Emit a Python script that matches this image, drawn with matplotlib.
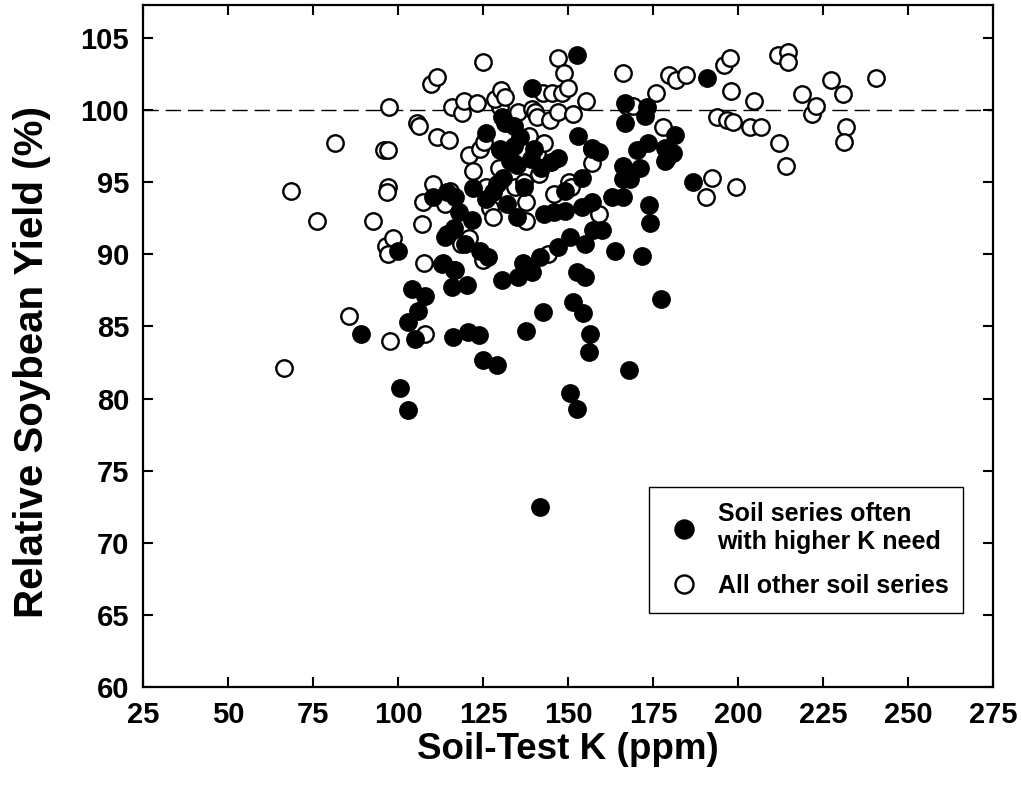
import matplotlib
matplotlib.use("Agg")
import matplotlib.pyplot as plt
from matplotlib.lines import Line2D

plt.rcParams['font.family'] = ['Liberation Sans', 'DejaVu Sans']
plt.rcParams['font.weight'] = 'bold'

# soil series often with higher K need (filled symbols)
high_k_x = [89.1, 100.0, 100.6, 102.9, 103.0, 104.1, 105.0, 105.9, 107.9, 110.3,
            112.9, 114.4, 114.4, 116.5, 115.9, 116.2, 116.8, 121.8, 116.5, 113.8,
            119.7, 124.1, 126.5, 113.2, 116.8, 120.3, 130.6, 135.3, 136.8, 139.4,
            141.8, 147.1, 150.6, 154.9, 157.4, 160.0, 163.8, 152.6, 155.0, 151.5,
            154.4, 142.6, 137.6, 156.5, 156.2, 120.6, 123.8, 125.0, 129.1, 168.0,
            150.6, 152.6, 141.8, 171.8, 177.4, 186.8, 173.8, 174.1, 190.9, 152.6,
            139.4, 130.6, 131.5, 166.8, 166.8, 173.2, 172.6, 181.5, 170.3, 173.5,
            178.5, 180.9, 178.5, 171.2, 166.2, 166.2, 168.2, 166.2, 179.1, 126.0,
            128.0, 129.0, 130.0, 131.0, 132.0, 132.0, 133.0, 134.0, 135.0, 135.0,
            136.0, 137.0, 139.0, 140.0, 142.0, 143.0, 145.0, 146.0, 147.0, 149.0,
            149.0, 153.0, 154.0, 154.0, 157.0, 157.0, 159.0, 163.0, 122.0, 126.0,
            118.0, 134.0]
high_k_y = [84.5, 90.2, 80.7, 79.2, 85.3, 87.6, 84.1, 86.1, 87.1, 94.0,
            89.3, 94.3, 91.4, 91.8, 87.7, 84.3, 94.0, 92.4, 88.9, 91.2,
            90.7, 90.2, 89.8, 89.4, 88.9, 87.9, 88.2, 88.4, 89.4, 88.8,
            89.8, 90.5, 91.2, 90.7, 91.7, 91.7, 90.2, 88.8, 88.4, 86.7,
            85.9, 86.0, 84.7, 84.5, 83.2, 84.6, 84.4, 82.7, 82.3, 82.0,
            80.4, 79.3, 72.5, 89.9, 86.9, 95.0, 93.4, 92.2, 102.2, 103.8,
            101.5, 99.5, 99.1, 100.5, 99.1, 100.2, 99.6, 98.3, 97.2, 97.7,
            97.4, 97.0, 96.5, 96.0, 96.1, 95.2, 95.2, 94.0, 96.7, 98.4,
            94.3, 94.9, 97.2, 95.3, 93.5, 97.0, 96.5, 97.5, 96.2, 92.6,
            98.1, 94.7, 96.6, 97.3, 96.0, 92.8, 96.4, 92.9, 96.7, 93.0,
            94.4, 98.2, 93.3, 95.3, 93.6, 97.3, 97.1, 94.0, 94.6, 93.8,
            92.9, 98.9]

# all other soil series (open symbols)
other_x = [66.5, 68.5, 76.2, 81.5, 85.5, 92.8, 95.8, 97.2, 97.0, 96.8,
           97.4, 96.5, 97.2, 98.5, 97.6, 105.5, 106.3, 107.2, 107.8, 108.0,
           107.4, 109.7, 111.5, 110.2, 111.5, 113.8, 115.2, 115.0, 115.9, 118.6,
           118.8, 119.3, 121.0, 120.8, 122.0, 123.2, 124.0, 125.0, 125.3, 125.0,
           126.0, 127.0, 130.0, 128.0, 128.5, 130.3, 131.5, 130.0, 129.8, 133.5,
           134.0, 134.5, 135.3, 137.0, 137.6, 137.8, 138.5, 139.4, 140.2, 140.9,
           141.0, 141.5, 142.6, 143.0, 144.0, 144.7, 145.3, 146.0, 147.1, 147.1,
           148.2, 148.8, 150.0, 150.3, 151.5, 151.0, 155.3, 157.0, 157.2, 159.0,
           166.2, 167.5, 169.0, 175.9, 177.9, 179.7, 181.8, 184.7, 190.6, 192.4,
           193.8, 195.9, 197.6, 196.8, 198.0, 198.5, 199.4, 203.5, 204.7, 206.8,
           211.8, 212.1, 214.7, 214.7, 214.1, 218.8, 221.8, 222.9, 227.4, 230.9,
           231.8, 231.2, 240.6]
other_y = [82.1, 94.4, 92.3, 97.7, 85.7, 92.3, 97.2, 97.2, 94.7, 94.3,
           100.2, 90.6, 90.0, 91.1, 84.0, 99.1, 98.9, 92.1, 89.4, 84.5,
           93.6, 101.8, 102.3, 94.9, 98.1, 93.5, 94.4, 97.9, 100.2, 90.7,
           99.8, 100.6, 91.1, 96.9, 95.8, 100.5, 97.3, 103.3, 97.8, 89.6,
           94.7, 93.2, 100.2, 92.6, 100.8, 101.4, 100.9, 97.3, 96.0, 99.4,
           96.3, 94.7, 99.9, 95.0, 92.3, 93.6, 98.2, 100.1, 99.9, 99.5,
           97.0, 95.6, 101.2, 97.7, 90.0, 99.3, 101.2, 94.2, 103.6, 99.9,
           101.2, 102.6, 101.5, 95.0, 99.7, 94.7, 100.6, 97.4, 96.3, 92.8,
           102.6, 100.3, 100.3, 101.2, 98.8, 102.4, 102.1, 102.4, 94.0, 95.3,
           99.5, 103.1, 103.6, 99.3, 101.3, 99.2, 94.7, 98.8, 100.6, 98.8,
           103.8, 97.7, 104.0, 103.3, 96.1, 101.1, 99.7, 100.3, 102.1, 101.1,
           98.8, 97.8, 102.2]

x_ticks = [25, 50, 75, 100, 125, 150, 175, 200, 225, 250, 275]
y_ticks = [60, 65, 70, 75, 80, 85, 90, 95, 100, 105]

fig = plt.figure(figsize=(10.21, 7.97), dpi=100)
ax = fig.add_axes([0.140, 0.138, 0.8326, 0.856])

ax.axhline(100, color='black', lw=1.0, dashes=(11, 5), zorder=1)

ax.scatter(other_x, other_y, s=140, facecolors='white', edgecolors='black',
           linewidths=1.7, zorder=2)
ax.scatter(high_k_x, high_k_y, s=140, facecolors='black', edgecolors='black',
           linewidths=1.7, zorder=3)

ax.set_xlim(25, 275)
ax.set_ylim(60, 107.3)
ax.set_xticks(x_ticks)
ax.set_yticks(y_ticks)
ax.tick_params(direction='in', length=7, width=1.5, labelsize=21,
               top=True, right=True, pad=10)
for s in ax.spines.values():
    s.set_linewidth(1.6)

ax.set_xlabel('Soil-Test K (ppm)', fontsize=26.5, fontweight='bold', labelpad=2)
ax.set_ylabel('Relative Soybean Yield (%)', fontsize=29, fontweight='bold')
ax.yaxis.set_label_coords(-0.108, 0.4757)

handles = [
    Line2D([], [], marker='o', ls='none', ms=13, mfc='black', mec='black',
           mew=1.7, label='Soil series often\nwith higher K need'),
    Line2D([], [], marker='o', ls='none', ms=13, mfc='white', mec='black',
           mew=1.7, label='All other soil series'),
]
leg = ax.legend(handles=handles, loc='lower right',
                bbox_to_anchor=(0.965, 0.1085), borderaxespad=0,
                fancybox=False, framealpha=1, edgecolor='black',
                prop={'size': 18, 'weight': 'bold'},
                handletextpad=0.55, borderpad=0.6, labelspacing=0.8,
                handlelength=1.6)
leg.get_frame().set_linewidth(1.0)

fig.savefig('out.png', dpi=100)
